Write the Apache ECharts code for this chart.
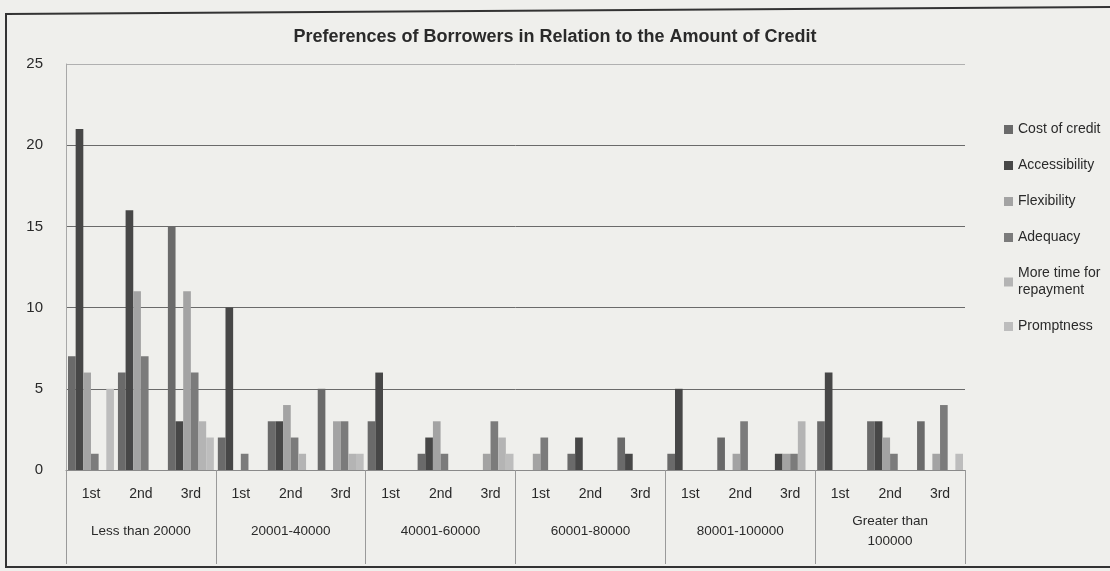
<!DOCTYPE html>
<html>
<head>
<meta charset="utf-8">
<title>Preferences of Borrowers in Relation to the Amount of Credit</title>
<script src="https://cdn.jsdelivr.net/npm/echarts@6/dist/echarts.min.js"></script>
<style>
  html, body { margin: 0; padding: 0; background: #efefec; }
  #chart { width: 1110px; height: 571px; }
</style>
</head>
<body>
<div id="chart"></div>
<script>
// Credit-amount bands and the rank of preference inside each band
const groups = ['Less than 20000', '20001-40000', '40001-60000', '60001-80000', '80001-100000', 'Greater than\n100000'];
const ranks = ['1st', '2nd', '3rd'];
const yTicks = [0, 5, 10, 15, 20, 25];

// Number of borrowers per preference: 18 values each (band x rank)
const costOfCredit   = [7, 6, 15,  2, 3, 5,  3, 1, 0,  0, 1, 2,  1, 2, 0,  3, 3, 3];
const accessibility  = [21, 16, 3, 10, 3, 0,  6, 2, 0,  0, 2, 1,  5, 0, 1,  6, 3, 0];
const flexibility    = [6, 11, 11, 0, 4, 3,  0, 3, 1,  1, 0, 0,  0, 1, 1,  0, 2, 1];
const adequacy       = [1, 7, 6,   1, 2, 3,  0, 1, 3,  2, 0, 0,  0, 3, 1,  0, 1, 4];
const moreTime       = [0, 0, 3,   0, 1, 1,  0, 0, 2,  0, 0, 0,  0, 0, 3,  0, 0, 0];
const promptness     = [5, 0, 2,   0, 0, 1,  0, 0, 1,  0, 0, 0,  0, 0, 0,  0, 0, 1];

const seriesNames = ['Cost of credit', 'Accessibility', 'Flexibility', 'Adequacy', 'More time for\nrepayment', 'Promptness'];
const seriesValues = [costOfCredit, accessibility, flexibility, adequacy, moreTime, promptness];
const seriesColors = ['#6a6a6a', '#474747', '#a3a3a3', '#7b7b7b', '#b4b4b4', '#bdbdbd'];

const rankLabels = [];
groups.forEach(() => ranks.forEach(r => rankLabels.push(r)));

const FONT = "'Liberation Sans', Arial, sans-serif";

const chart = echarts.init(document.getElementById('chart'), null, { renderer: 'canvas' });

chart.setOption({
  backgroundColor: '#efefec',
  animation: false,
  textStyle: { fontFamily: FONT, color: '#2a2a2a' },
  title: {
    text: 'Preferences of Borrowers in Relation to the Amount of Credit',
    left: 'center',
    top: 23,
    textStyle: { fontFamily: FONT, fontSize: 18, fontWeight: 'bold', color: '#2a2a2a' }
  },
  legend: {
    orient: 'vertical',
    left: 999,
    top: 116,
    icon: 'rect',
    itemWidth: 9,
    itemHeight: 9,
    itemGap: 19,
    data: seriesNames,
    textStyle: { fontFamily: FONT, fontSize: 14, lineHeight: 17, color: '#2a2a2a' }
  },
  grid: { left: 66, right: 145, top: 64, bottom: 101, containLabel: false },
  xAxis: [
    {
      type: 'category',
      data: rankLabels,
      axisLine: { show: true, lineStyle: { color: '#8a8a8a', width: 1 } },
      axisTick: { show: false },
      axisLabel: { interval: 0, margin: 17, fontFamily: FONT, fontSize: 14, color: '#2a2a2a' }
    },
    {
      type: 'category',
      data: groups,
      position: 'bottom',
      axisLine: { show: false },
      axisTick: { show: true, interval: 0, length: 94, lineStyle: { color: '#9a9a9a', width: 1 } },
      axisLabel: {
        interval: 0, margin: 61, verticalAlign: 'middle',
        fontFamily: FONT, fontSize: 13.5, lineHeight: 20, color: '#2a2a2a'
      }
    }
  ],
  yAxis: {
    type: 'value',
    min: yTicks[0],
    max: yTicks[yTicks.length - 1],
    interval: 5,
    axisLine: { show: true, lineStyle: { color: '#a8a8a8' } },
    axisTick: { show: false },
    axisLabel: { margin: 23, fontFamily: FONT, fontSize: 15, color: '#2a2a2a' },
    splitLine: {
      show: true,
      lineStyle: { color: ['#8a8a8a', '#6a6a6a', '#6a6a6a', '#6a6a6a', '#6a6a6a', '#b0b0b0'], width: 1 }
    }
  },
  graphic: [
    {
      type: 'polyline',
      shape: { points: [[1116, 7], [6, 14], [6, 567], [1116, 567]] },
      style: { stroke: '#333', lineWidth: 2, fill: null },
      silent: true
    }
  ],
  series: seriesNames.map((name, i) => ({
    name: name,
    type: 'bar',
    xAxisIndex: 0,
    data: seriesValues[i],
    barGap: '0%',
    barCategoryGap: '8%',
    itemStyle: { color: seriesColors[i] }
  }))
});
</script>
</body>
</html>
